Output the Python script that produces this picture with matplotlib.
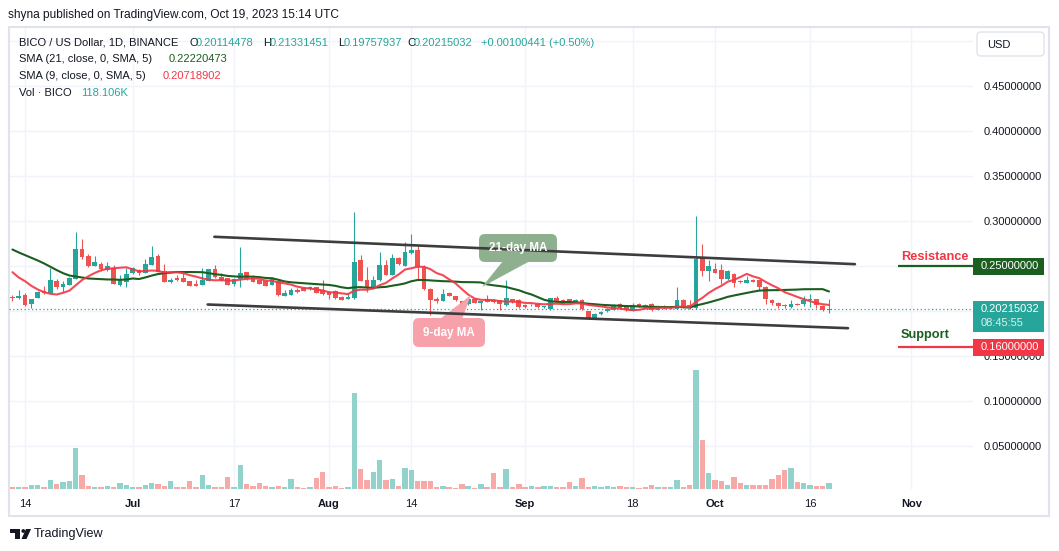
import numpy as np
import pandas as pd
import matplotlib
matplotlib.use('Agg')
import matplotlib.pyplot as plt
import matplotlib.transforms as mtransforms
from matplotlib.patches import Rectangle, FancyBboxPatch, Polygon, Circle

plt.rcParams['font.family'] = ['Liberation Sans', 'DejaVu Sans']

# ---- data (BICO / USD, 1D, Binance) ----
start = '2023-06-12'

opens = [
    0.2155, 0.2148, 0.2178, 0.2081, 0.2148, 0.2222, 0.2203, 0.2333, 0.2270, 0.2296,
    0.2359, 0.2685, 0.2611, 0.2504, 0.2522, 0.2452, 0.2481, 0.2293, 0.2326, 0.2426,
    0.2456, 0.2426, 0.2515, 0.2615, 0.2444, 0.2319, 0.2367, 0.2367, 0.2337, 0.2307,
    0.2293, 0.2337, 0.2463, 0.2381, 0.2363, 0.2300, 0.2356, 0.2430, 0.2374, 0.2344,
    0.2333, 0.2296, 0.2333, 0.2170, 0.2181, 0.2233, 0.2259, 0.2241, 0.2263, 0.2233,
    0.2215, 0.2226, 0.2159, 0.2137, 0.2148, 0.2567, 0.2344, 0.2259, 0.2344, 0.2511,
    0.2407, 0.2585, 0.2504, 0.2641, 0.2678, 0.2493, 0.2241, 0.2133, 0.2115, 0.2207,
    0.2167, 0.2111, 0.2078, 0.2133, 0.2096, 0.2130, 0.2122, 0.2122, 0.2067, 0.2130,
    0.2122, 0.2067, 0.2063, 0.2085, 0.2044, 0.2022, 0.2141, 0.2122, 0.2130, 0.2104,
    0.2122, 0.2000, 0.1919, 0.1967, 0.2000, 0.2015, 0.2085, 0.2056, 0.2004, 0.2078,
    0.2074, 0.2085, 0.2015, 0.2056, 0.2030, 0.2022, 0.2122, 0.2067, 0.2030, 0.2596,
    0.2448, 0.2467, 0.2456, 0.2356, 0.2411, 0.2330, 0.2315, 0.2344, 0.2344, 0.2270,
    0.2122, 0.2096, 0.2067, 0.2048, 0.2085, 0.2078, 0.2122, 0.2133, 0.2056, 0.20114478,
]
highs = [
    0.2178, 0.2233, 0.2197, 0.2140, 0.2222, 0.2278, 0.2478, 0.2356, 0.2333, 0.2378,
    0.2878, 0.2807, 0.2633, 0.2611, 0.2541, 0.2544, 0.2518, 0.2402, 0.2478, 0.2485,
    0.2463, 0.2578, 0.2722, 0.2630, 0.2522, 0.2370, 0.2400, 0.2426, 0.2340, 0.2344,
    0.2474, 0.2463, 0.2511, 0.2422, 0.2370, 0.2370, 0.2715, 0.2437, 0.2400, 0.2350,
    0.2340, 0.2378, 0.2340, 0.2230, 0.2260, 0.2260, 0.2265, 0.2280, 0.2270, 0.2344,
    0.2222, 0.2230, 0.2165, 0.2200, 0.3100, 0.2622, 0.2485, 0.2389, 0.2659, 0.2567,
    0.2633, 0.2607, 0.2763, 0.2856, 0.2722, 0.2511, 0.2260, 0.2156, 0.2244, 0.2215,
    0.2170, 0.2115, 0.2140, 0.2140, 0.2115, 0.2178, 0.2130, 0.2125, 0.2344, 0.2140,
    0.2130, 0.2075, 0.2080, 0.2090, 0.2062, 0.2148, 0.2167, 0.2130, 0.2140, 0.2135,
    0.2130, 0.2005, 0.1980, 0.2000, 0.2030, 0.2085, 0.2095, 0.2065, 0.2090, 0.2090,
    0.2085, 0.2090, 0.2045, 0.2065, 0.2050, 0.2263, 0.2130, 0.2122, 0.3056, 0.2744,
    0.2567, 0.2530, 0.2522, 0.2460, 0.2420, 0.2345, 0.2389, 0.2360, 0.2350, 0.2275,
    0.2130, 0.2100, 0.2075, 0.2122, 0.2095, 0.2167, 0.2189, 0.2140, 0.2065, 0.21331451,
]
lows = [
    0.2114, 0.2133, 0.2056, 0.2037, 0.2145, 0.2190, 0.2200, 0.2241, 0.2215, 0.2289,
    0.2352, 0.2574, 0.2485, 0.2500, 0.2441, 0.2444, 0.2300, 0.2285, 0.2270, 0.2415,
    0.2404, 0.2420, 0.2515, 0.2430, 0.2326, 0.2310, 0.2330, 0.2319, 0.2281, 0.2281,
    0.2293, 0.2330, 0.2370, 0.2340, 0.2290, 0.2278, 0.2270, 0.2350, 0.2320, 0.2300,
    0.2280, 0.2290, 0.2170, 0.2165, 0.2175, 0.2200, 0.2220, 0.2235, 0.2200, 0.2185,
    0.2130, 0.2135, 0.2120, 0.2130, 0.2140, 0.2330, 0.2215, 0.2250, 0.2340, 0.2400,
    0.2400, 0.2510, 0.2500, 0.2635, 0.2352, 0.2235, 0.1956, 0.2090, 0.2110, 0.2165,
    0.2110, 0.2030, 0.2070, 0.2090, 0.2015, 0.2100, 0.2095, 0.2010, 0.2060, 0.2095,
    0.2040, 0.2035, 0.2055, 0.2035, 0.2040, 0.2018, 0.2100, 0.2080, 0.2105, 0.2095,
    0.2015, 0.1920, 0.1910, 0.1960, 0.1995, 0.2010, 0.2020, 0.2005, 0.2000, 0.2050,
    0.2040, 0.2005, 0.2010, 0.2025, 0.2025, 0.2020, 0.2035, 0.2025, 0.2025, 0.2389,
    0.2337, 0.2420, 0.2300, 0.2350, 0.2270, 0.2310, 0.2310, 0.2320, 0.2240, 0.2080,
    0.2065, 0.2030, 0.2040, 0.2040, 0.2070, 0.2060, 0.2050, 0.2035, 0.2005, 0.19757937,
]
closes = [
    0.2150, 0.2170, 0.2067, 0.2133, 0.2211, 0.2197, 0.2344, 0.2263, 0.2300, 0.2367,
    0.2696, 0.2604, 0.2504, 0.2544, 0.2463, 0.2500, 0.2307, 0.2359, 0.2411, 0.2478,
    0.2426, 0.2522, 0.2600, 0.2430, 0.2326, 0.2348, 0.2348, 0.2319, 0.2281, 0.2281,
    0.2344, 0.2463, 0.2374, 0.2344, 0.2296, 0.2356, 0.2419, 0.2352, 0.2326, 0.2307,
    0.2285, 0.2356, 0.2178, 0.2200, 0.2233, 0.2215, 0.2226, 0.2267, 0.2204, 0.2193,
    0.2178, 0.2141, 0.2126, 0.2156, 0.2548, 0.2337, 0.2252, 0.2344, 0.2511, 0.2407,
    0.2585, 0.2519, 0.2652, 0.2678, 0.2493, 0.2241, 0.2122, 0.2115, 0.2189, 0.2170,
    0.2122, 0.2078, 0.2133, 0.2096, 0.2111, 0.2104, 0.2104, 0.2078, 0.2141, 0.2104,
    0.2048, 0.2041, 0.2074, 0.2041, 0.2056, 0.2141, 0.2104, 0.2085, 0.2115, 0.2126,
    0.2019, 0.1926, 0.1974, 0.1993, 0.2026, 0.2052, 0.2030, 0.2011, 0.2067, 0.2056,
    0.2048, 0.2011, 0.2037, 0.2030, 0.2041, 0.2122, 0.2041, 0.2030, 0.2574, 0.2448,
    0.2500, 0.2426, 0.2356, 0.2444, 0.2315, 0.2319, 0.2344, 0.2326, 0.2263, 0.2130,
    0.2093, 0.2056, 0.2052, 0.2085, 0.2074, 0.2122, 0.2133, 0.2067, 0.20114591, 0.20215032,
]
# volume in thousands of BICO
volumes = [
    35, 35, 35, 76, 76, 35, 181, 97, 139, 160,
    827, 285, 56, 35, 35, 56, 35, 118, 76, 35,
    35, 76, 118, 97, 56, 160, 35, 35, 160, 35,
    285, 76, 35, 35, 243, 35, 493, 97, 56, 118,
    56, 35, 56, 35, 202, 35, 21, 35, 222, 348,
    35, 56, 21, 35, 1932, 410, 181, 348, 577, 188,
    202, 56, 431, 389, 160, 160, 160, 35, 56, 35,
    21, 97, 56, 21, 97, 35, 327, 35, 410, 35,
    97, 35, 56, 35, 56, 56, 35, 35, 139, 56,
    222, 35, 56, 35, 56, 35, 56, 35, 35, 14,
    35, 76, 35, 35, 35, 181, 35, 76, 2391, 994,
    327, 181, 160, 76, 243, 118, 76, 76, 76, 76,
    202, 285, 389, 431, 139, 118, 76, 56, 56, 118.106,
]
# SMA values on screen before enough closes are visible
sma21_lead = [0.2685, 0.2652, 0.2622, 0.2593, 0.2563, 0.2530, 0.2493, 0.2456, 0.2422, 0.2396,
              0.2385, 0.2374, 0.2363, 0.2359, 0.2356, 0.2352, 0.2352, 0.2348, 0.2352, 0.2363]
sma9_lead = [0.2433, 0.2374, 0.2333, 0.2281, 0.2241, 0.2211, 0.2193, 0.2185]
sma21_text = '0.22220473'
sma9_text = '0.20718902'

# drawings on the chart
channel_top_x = [31.9, 133.1]
channel_top_y = [0.2826, 0.2522]
channel_bot_x = [30.85, 132.0]
channel_bot_y = [0.2074, 0.1811]
resistance = 0.25
support = 0.16

price_ticks = [0.05, 0.10, 0.15, 0.20, 0.25, 0.30, 0.35, 0.40, 0.45, 0.50]
covered_ticks = [0.20, 0.25, 0.50]   # hidden under the price boxes / USD button

tick_dates = ['2023-06-14', '2023-07-01', '2023-07-17', '2023-08-01', '2023-08-14',
              '2023-09-01', '2023-09-18', '2023-10-01', '2023-10-16', '2023-11-01']
tick_labels = ['14', 'Jul', '17', 'Aug', '14', 'Sep', '18', 'Oct', '16', 'Nov']

# ---- colours ----
UP = '#26a69a'
DOWN = '#ef5350'
VOL_UP = '#92d2cc'
VOL_DOWN = '#f7a9a7'
SMA21_C = '#1b5e20'
SMA9_C = '#f23645'
TXT = '#131722'
GRID = '#f0f3fa'

W, H = 1059, 551
fig = plt.figure(figsize=(W / 100, H / 100), dpi=100)
fig.patch.set_facecolor('white')
# reference pixel coords (origin top-left)
ref = mtransforms.Affine2D().scale(1 / W, -1 / H).translate(0, 1) + fig.transFigure

left, right, top, bottom = 9, 973, 27, 489
rect = [left / W, 1 - bottom / H, (right - left) / W, (bottom - top) / H]
ax_vol = fig.add_axes(rect)
ax = fig.add_axes(rect, sharex=ax_vol)
ax.set_zorder(2)
ax.patch.set_visible(False)

o = np.array(opens)
h = np.array(highs)
l = np.array(lows)
c = np.array(closes)
x = np.arange(len(c))
up = c >= o
cols = np.where(up, UP, DOWN)

# volume
ax_vol.bar(x, volumes, width=0.85, color=np.where(up, VOL_UP, VOL_DOWN), zorder=2)
ax_vol.set_ylim(0, 9300)
ax_vol.set_yticks([])
for s in ax_vol.spines.values():
    s.set_visible(False)
ax_vol.tick_params(axis='x', length=0, labelbottom=False)

# grid: price levels mapped onto the volume axes so it stays behind the bars
ylo, yhi = 0.0025, 0.5156
for yt in price_ticks:
    ax_vol.axhline((yt - ylo) / (yhi - ylo) * 9300, color=GRID, lw=1, zorder=0)

start_ts = pd.Timestamp(start)
tick_pos = [(pd.Timestamp(d) - start_ts).days for d in tick_dates]
for tp in tick_pos:
    ax_vol.axvline(tp, color=GRID, lw=1, zorder=0)

# candles
ax.vlines(x, l, h, color=cols, lw=0.8, zorder=3)
body = np.maximum(np.abs(c - o), 0.0008)
ax.bar(x, body, bottom=np.minimum(o, c), width=0.74, color=cols, zorder=4)

# moving averages
close_s = pd.Series(c)
sma21 = close_s.rolling(21).mean().to_numpy()
sma21[:len(sma21_lead)] = sma21_lead
sma9 = close_s.rolling(9).mean().to_numpy()
sma9[:len(sma9_lead)] = sma9_lead
ax.plot(x, sma21, color=SMA21_C, lw=1.5, zorder=5, solid_capstyle='round')
ax.plot(x, sma9, color=SMA9_C, lw=1.5, alpha=0.9, zorder=5, solid_capstyle='round')

# last price dotted line
ax.axhline(c[-1], color=UP, lw=0.9, ls=(0, (1, 2)), zorder=2)

# channel
ax.plot(channel_top_x, channel_top_y, color='#3d3d3d', lw=1.9, zorder=7, solid_capstyle='round')
ax.plot(channel_bot_x, channel_bot_y, color='#3d3d3d', lw=1.9, zorder=7, solid_capstyle='round')

ax.set_xlim(-0.54, 151.75)
ax.set_ylim(ylo, yhi)
for s in ax.spines.values():
    s.set_visible(False)

ax.yaxis.tick_right()
ax.set_yticks(price_ticks)
ax.set_yticklabels(['' if any(abs(v - hv) < 1e-9 for hv in covered_ticks) else '%.8f' % v
                    for v in price_ticks])
ax.tick_params(axis='y', length=0, pad=7.5, labelsize=8, labelcolor=TXT)
ax.set_xticks(tick_pos)
ax.set_xticklabels(tick_labels)
ax.tick_params(axis='x', length=0, pad=7, labelsize=8, labelcolor=TXT)
for lab in ax.get_xticklabels():
    if not lab.get_text().isdigit():
        lab.set_fontweight('bold')

# resistance / support drawings
res_x0 = (898 - 12.4) / 6.33
ax.hlines([resistance], res_x0, 151.75, color=SMA21_C, lw=1.6, zorder=6)
ax.hlines([support], res_x0, 151.75, color=SMA9_C, lw=1.6, zorder=6)
ax.text(res_x0 + 0.55, resistance + 0.0098, 'Resistance', color=SMA9_C, fontsize=9.2,
        fontweight='bold', va='center', ha='left', zorder=6)
ax.text(res_x0 + 0.45, support + 0.0133, 'Support', color=SMA21_C, fontsize=9.2,
        fontweight='bold', va='center', ha='left', zorder=6)

# callouts
box21 = FancyBboxPatch((479, 234), 78, 28, boxstyle='round,pad=0,rounding_size=6',
                       transform=ref, fc='#8fb08f', ec='none', zorder=6, clip_on=False)
ax.add_patch(box21)
ax.add_patch(Polygon([(503, 261), (530, 261), (482, 287)], closed=True, transform=ref,
                     fc='#8fb08f', ec='none', zorder=6, clip_on=False))
ax.text(518, 248.5, '21-day MA', transform=ref, color='white', fontsize=8.4,
        fontweight='bold', ha='center', va='center', zorder=8)

box9 = FancyBboxPatch((413, 318), 72, 29, boxstyle='round,pad=0,rounding_size=6',
                      transform=ref, fc='#f7a1ab', ec='none', zorder=6, clip_on=False)
ax.add_patch(box9)
ax.add_patch(Polygon([(440, 319), (462, 319), (471, 295)], closed=True, transform=ref,
                     fc='#f7a1ab', ec='none', zorder=6, clip_on=False))
ax.text(449, 333, '9-day MA', transform=ref, color='white', fontsize=8.4,
        fontweight='bold', ha='center', va='center', zorder=8)

fig.canvas.draw()


def ref_y(p):
    return H - ax.transData.transform((0, p))[1]


# price scale labels
def price_box(y_top, y_bot, color):
    fig.add_artist(Rectangle((973, y_top), 71, y_bot - y_top, transform=ref,
                             fc=color, ec='none', zorder=5))


yr = ref_y(resistance)
price_box(yr - 8.5, yr + 8.5, SMA21_C)
fig.text(980.5, yr, '%.8f' % resistance, transform=ref, color='white', fontsize=8,
         va='center', ha='left', zorder=6)
ys = ref_y(support)
price_box(ys - 8.5, ys + 8.5, SMA9_C)
fig.text(980.5, ys, '%.8f' % support, transform=ref, color='white', fontsize=8,
         va='center', ha='left', zorder=6)
yc = ref_y(c[-1])
price_box(yc - 8.5, yc + 22.5, UP)
fig.text(980.5, yc, '%.8f' % c[-1], transform=ref, color='white', fontsize=8,
         va='center', ha='left', zorder=6)
fig.text(980.5, yc + 14, '08:45:55', transform=ref, color='#d8f0ee', fontsize=8,
         va='center', ha='left', zorder=6)

# USD button
fig.add_artist(FancyBboxPatch((977, 32), 67, 24, boxstyle='round,pad=0,rounding_size=4',
                              transform=ref, fc='white', ec='#e0e3eb', lw=1, zorder=5))
fig.text(987, 44.5, 'USD', transform=ref, color=TXT, fontsize=8, va='center', zorder=6)

# frame
fig.add_artist(Rectangle((8.5, 26.5), 1040.5, 489.5, transform=ref, fill=False,
                         ec='#e0e3eb', lw=1.5, zorder=1))

# header
fig.text(8, 15, 'shyna published on TradingView.com, Oct 19, 2023 15:14 UTC', transform=ref,
         color=TXT, fontsize=8.6, va='center')

# legend
chg = c[-1] - c[-2]
pct = chg / c[-2] * 100
legend1 = [
    ('BICO / US Dollar, 1D, BINANCE', 18.6, TXT),
    ('O', 189, TXT), ('%.8f' % o[-1], 196, UP),
    ('H', 263, TXT), ('%.8f' % h[-1], 270, UP),
    ('L', 338, TXT), ('%.8f' % l[-1], 343.5, UP),
    ('C', 407, TXT), ('%.8f' % c[-1], 414, UP),
    ('%+.8f (%+.2f%%)' % (chg, pct), 481, UP),
]
for s, xx, col in legend1:
    fig.text(xx, 42.5, s, transform=ref, color=col, fontsize=8, va='center')
fig.text(18.6, 59, 'SMA (21, close, 0, SMA, 5)', transform=ref, color=TXT, fontsize=8, va='center')
fig.text(169, 59, sma21_text, transform=ref, color=SMA21_C, fontsize=8, va='center')
fig.text(18.6, 76, 'SMA (9, close, 0, SMA, 5)', transform=ref, color=TXT, fontsize=8, va='center')
fig.text(163, 76, sma9_text, transform=ref, color=SMA9_C, fontsize=8, va='center')
fig.text(18.6, 92.5, 'Vol \u00b7 BICO', transform=ref, color=TXT, fontsize=8, va='center')
fig.text(81, 92.5, '%.3fK' % volumes[-1], transform=ref, color=UP, fontsize=8, va='center')

# footer logo + name
fig.add_artist(Rectangle((10, 529), 10, 3.5, transform=ref, fc=TXT, ec='none'))
fig.add_artist(Rectangle((14.5, 529), 5.5, 10, transform=ref, fc=TXT, ec='none'))
fig.add_artist(Circle((23.3, 531), 1.9, transform=ref, fc=TXT, ec='none'))
fig.add_artist(Polygon([(26, 529), (31, 529), (26.5, 539), (21.5, 539)], closed=True,
                       transform=ref, fc=TXT, ec='none'))
fig.text(34, 534, 'TradingView', transform=ref, color=TXT, fontsize=9.1, va='center')

fig.savefig('out.png', dpi=100, facecolor='white')
